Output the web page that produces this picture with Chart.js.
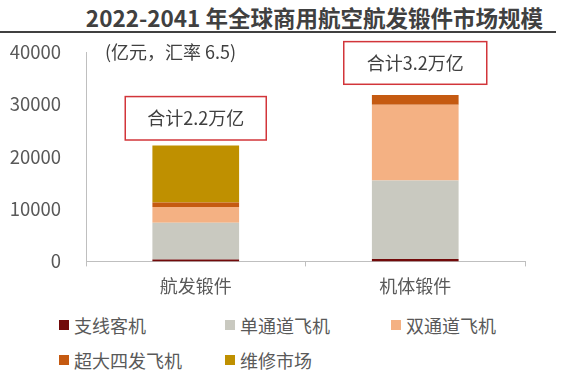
<!DOCTYPE html>
<html>
<head>
<meta charset="utf-8">
<script src="https://cdn.jsdelivr.net/npm/chart.js@4/dist/chart.umd.min.js"></script>
<style>
  body { margin: 0; width: 576px; height: 374px; background: #fff; position: relative; overflow: hidden;
         font-family: "Noto Sans CJK SC", "Noto Sans", sans-serif; }
  #title { position: absolute; right: 33px; top: 3px; white-space: nowrap;
           font-size: 22.5px; font-weight: bold; color: #404040; line-height: 28px; }
  #rule { position: absolute; left: 0; top: 31px; width: 556px; height: 2px; background: #404040; }
  #wrap { position: absolute; left: 0; top: 24px; width: 560px; height: 282px; }
  #legend { position: absolute; left: 59px; top: 313px; display: grid; grid-template-columns: 166px 166px 166px;
            row-gap: 11px; font-size: 18px; color: #595959; line-height: 24px; }
  .item { display: flex; align-items: center; }
  .box { width: 10px; height: 10px; margin-right: 5px; }
</style>
</head>
<body>
<div id="title">2022-2041 年全球商用航空航发锻件市场规模</div>
<div id="rule"></div>
<div id="wrap"><canvas id="chart"></canvas></div>
<div id="legend"></div>
<script>
const categories = ["航发锻件", "机体锻件"];
const seriesNames = ["支线客机", "单通道飞机", "双通道飞机", "超大四发飞机", "维修市场"];
const regional = [350, 450];
const singleAisle = [7050, 15000];
const twinAisle = [3000, 14500];
const superLarge = [850, 1850];
const maintenance = [10900, 0];
const colors = ["#720A0A", "#C9C9C0", "#F4B183", "#C55A11", "#BF9000"];
const yTicks = [0, 10000, 20000, 30000, 40000];
const totalLabels = ["合计2.2万亿", "合计3.2万亿"];
const unitNote = "(亿元，汇率 6.5)";

const values = [regional, singleAisle, twinAisle, superLarge, maintenance];

const notes = {
  id: "notes",
  afterDraw(chart) {
    const ctx = chart.ctx;
    const x = chart.scales.x, y = chart.scales.y;
    ctx.save();
    ctx.font = '18px "Noto Sans CJK SC"';
    ctx.fillStyle = "#404040";
    ctx.textBaseline = "middle";
    ctx.textAlign = "left";
    ctx.fillText(unitNote, 105, y.getPixelForValue(40000));
    // total boxes: [top value, bottom value] per category
    const spans = [[31500, 23200], [42000, 33850]];
    const widths = [141, 143];
    totalLabels.forEach((t, i) => {
      const cx = x.getPixelForValue(i);
      const top = y.getPixelForValue(spans[i][0]);
      const bot = y.getPixelForValue(spans[i][1]);
      ctx.fillStyle = "#fff";
      ctx.fillRect(cx - widths[i] / 2, top, widths[i], bot - top);
      ctx.strokeStyle = "#D2353A";
      ctx.lineWidth = 1.5;
      ctx.strokeRect(cx - widths[i] / 2, top, widths[i], bot - top);
      ctx.fillStyle = "#404040";
      ctx.font = '18px "Noto Sans CJK SC"';
      ctx.textAlign = "center";
      ctx.fillText(t, cx, (top + bot) / 2);
    });
    ctx.restore();
  }
};

new Chart(document.getElementById("chart"), {
  type: "bar",
  data: {
    labels: categories,
    datasets: seriesNames.map((name, i) => ({
      label: name,
      data: values[i],
      backgroundColor: colors[i],
      borderWidth: 0,
      categoryPercentage: 0.395,
      barPercentage: 1
    }))
  },
  options: {
    responsive: true,
    maintainAspectRatio: false,
    animation: false,
    layout: { padding: { top: 4, right: 35, left: 0, bottom: 0 } },
    plugins: { legend: { display: false }, tooltip: { enabled: false } },
    scales: {
      x: {
        stacked: true,
        grid: { display: true, drawOnChartArea: false, offset: true, tickLength: 5, color: "#BFBFBF" },
        border: { color: "#BFBFBF", width: 1 },
        ticks: { color: "#595959", font: { size: 18, family: "Noto Sans CJK SC" }, padding: 9 }
      },
      y: {
        stacked: true,
        min: 0, max: 40000,
        afterBuildTicks(axis) { axis.ticks = yTicks.map(v => ({ value: v })); },
        afterFit(axis) { axis.width = 86; },
        grid: { display: false },
        border: { color: "#BFBFBF", width: 1 },
        ticks: { color: "#595959", font: { size: 18.5, family: "Noto Sans CJK SC" }, padding: 17,
                 callback: v => String(v) }
      }
    }
  },
  plugins: [notes]
});

const legend = document.getElementById("legend");
seriesNames.forEach((name, i) => {
  const el = document.createElement("div");
  el.className = "item";
  el.innerHTML = '<span class="box" style="background:' + colors[i] + '"></span>' + name;
  legend.appendChild(el);
});
</script>
</body>
</html>
